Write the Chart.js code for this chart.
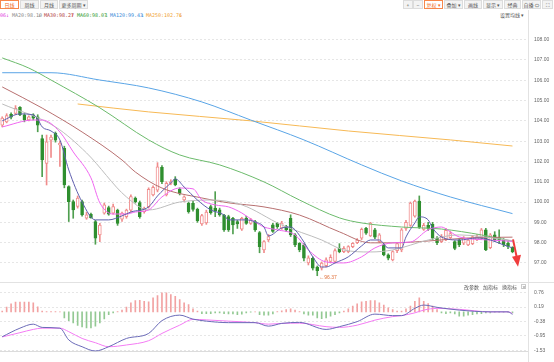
<!DOCTYPE html>
<html>
<head>
<meta charset="utf-8">
<script src="https://cdn.jsdelivr.net/npm/chart.js@4.4.1/dist/chart.umd.min.js"></script>
<style>
  body { margin: 0; background: #fff; font-family: "Noto Sans CJK SC", "Liberation Sans", sans-serif; }
  #wrap { position: relative; width: 554px; height: 362px; overflow: hidden; background: #fff; }
  .btn { position: absolute; top: 0; height: 9px; box-sizing: border-box; border: 1px solid #dcdcdc;
         background: #f3f3f3; color: #555; font-size: 5px; line-height: 7px; text-align: center; white-space: nowrap; }
  .btn.on { border-color: #f7874a; color: #f26a21; background: #fff; }
  .lg { position: absolute; top: 12px; font-size: 5px; line-height: 6px; white-space: nowrap; font-family: "DejaVu Sans Mono", monospace; }
  .tool { position: absolute; font-size: 5px; line-height: 6px; color: #555; white-space: nowrap; }
  .hline { position: absolute; left: 0; height: 1px; background: #e2e2e2; }
  .vline { position: absolute; width: 1px; background: #e2e2e2; }
  canvas { position: absolute; left: 0; }
</style>
</head>
<body>
<div id="wrap">
  <div class="btn on" style="left:0;width:19px">日线</div>
  <div class="btn" style="left:20px;width:19px">周线</div>
  <div class="btn" style="left:40px;width:18px">月线</div>
  <div class="btn" style="left:59px;width:29px">更多周期 ▾</div>

  <div class="btn" style="left:403px;width:10px">+</div>
  <div class="btn" style="left:413px;width:10px">−</div>
  <div class="btn on" style="left:424px;width:19px">复权 ▾</div>
  <div class="btn" style="left:444px;width:19px">叠加 ▾</div>
  <div class="btn" style="left:464px;width:18px">画线</div>
  <div class="btn" style="left:483px;width:20px">显示 ▾</div>
  <div class="btn" style="left:504px;width:17px">经典</div>
  <div class="btn" style="left:522px;width:19px">自播 ⇔</div>
  <div class="btn" style="left:542px;width:11px">⛶</div>

  <span class="lg" style="left:0;color:#e040e0">06</span>
  <span class="lg" style="left:6px;color:#e040e0">↓</span>
  <span class="lg" style="left:12px;color:#888">MA20:98.10</span>
  <span class="lg" style="left:38px;color:#888">↓</span>
  <span class="lg" style="left:44px;color:#b03a3a">MA30:98.27</span>
  <span class="lg" style="left:71px;color:#e03030">↑</span>
  <span class="lg" style="left:77px;color:#2f9a2f">MA60:98.07</span>
  <span class="lg" style="left:105px;color:#2f9a2f">↓</span>
  <span class="lg" style="left:110px;color:#3a8ad8">MA120:99.43</span>
  <span class="lg" style="left:141px;color:#3a8ad8">↓</span>
  <span class="lg" style="left:146px;color:#f0a030">MA250:102.76</span>
  <span class="lg" style="left:179px;color:#f0a030">↓</span>
  <span class="tool" style="left:500px;top:12px">设置均线 ▾</span>

  <canvas id="kline" width="554" height="260" style="top:22px"></canvas>
  <canvas id="macd" width="554" height="80" style="top:282px"></canvas>

  <div class="hline" style="top:282px;width:554px"></div>
  <div class="vline" style="left:528px;top:10px;height:352px"></div>
  <span class="tool" style="left:464px;top:284px">改参数</span>
  <span class="tool" style="left:483px;top:284px">加指标</span>
  <span class="tool" style="left:502px;top:284px">换指标</span>
  <span class="tool" style="left:521px;top:284px;border:1px solid #ccc;width:5px;height:5px;line-height:5px;text-align:center;box-sizing:border-box;font-size:4px">×</span>
</div>

<script>
// daily candles
const open = [103.79,103.95,104.32,104.37,104.66,104.29,104.04,104.29,104.2,103.13,
  101.9,103.05,103.38,102.81,102.65,100.76,100.02,99.78,100.02,99.2,
  99.4,99.04,98.38,99.45,99.73,99.45,99.6,99.15,99.28,99.6,
  100.19,99.97,99.53,99.77,100.35,100.59,101.71,100.35,100.92,101.12,
  100.63,100.1,99.94,99.94,99.64,98.92,98.97,99.77,99.7,99.61,
  99.36,99.28,99.2,99.04,98.66,99.2,98.95,99.04,98.5,97.64,
  98.13,98.88,98.96,98.71,98.79,99.2,98.38,97.97,97.89,97.0,
  97.23,96.79,96.74,96.86,97.07,97.07,97.72,97.56,97.56,97.8,
  98.0,98.22,98.71,98.33,98.63,98.05,97.89,97.4,97.15,97.6,
  97.64,98.7,98.85,99.3,100.05,98.65,98.85,98.9,98.22,98.05,
  98.15,98.25,98.05,98.13,97.97,97.89,97.95,98.13,98.22,98.63,
  97.75,98.38,98.25,98.13,97.97,97.77];
const high = [104.2,104.35,104.4,104.75,104.7,104.35,104.25,104.35,104.3,103.3,
  103.3,103.3,103.45,103.0,102.75,100.8,100.1,100.3,100.1,99.5,
  99.45,99.1,98.95,99.95,99.8,99.9,99.65,99.5,99.65,100.35,
  100.25,100.05,99.75,100.7,100.8,101.94,101.8,101.0,101.1,101.25,
  100.7,100.3,100.0,100.05,99.7,99.4,99.6,99.85,100.51,99.7,
  99.4,99.35,99.25,99.1,99.25,99.3,99.2,99.1,98.55,98.1,
  98.4,98.95,99.0,99.05,98.85,99.37,98.45,98.0,97.95,97.35,
  97.3,96.85,97.05,97.25,97.4,97.7,97.95,97.8,97.85,98.0,
  98.2,98.72,98.75,99.0,98.7,98.45,97.95,97.45,97.6,98.0,
  98.7,99.1,100.0,100.1,100.3,98.95,99.0,99.0,98.3,98.4,
  98.7,98.55,98.1,98.2,98.3,98.2,98.35,98.4,98.7,98.71,
  98.45,98.54,98.63,98.2,98.05,97.8];
const low = [103.7,103.9,104.1,104.3,104.25,103.95,104.0,104.05,103.46,101.25,
  100.84,102.2,102.95,101.75,100.7,99.04,99.2,99.7,99.3,99.15,
  99.2,97.92,98.05,99.4,99.35,99.4,98.85,99.05,99.2,99.5,
  99.95,99.2,99.45,99.7,100.3,100.5,100.9,100.3,100.85,100.8,
  100.35,100.0,99.45,99.55,99.0,98.85,98.9,99.4,99.28,99.3,
  98.55,98.55,98.43,98.7,98.6,98.9,98.9,98.55,97.5,97.5,
  98.05,98.5,98.7,98.65,98.55,98.3,97.8,97.55,97.1,96.9,
  96.65,96.37,96.65,96.8,97.0,97.0,97.5,97.5,97.5,97.75,
  97.95,98.15,98.4,98.3,98.2,98.0,97.35,97.15,97.1,97.5,
  97.55,98.6,98.8,99.25,98.7,98.6,98.6,98.15,97.9,98.0,
  98.1,98.2,97.65,97.8,97.9,97.85,97.9,98.1,98.15,97.6,
  97.7,98.05,97.95,97.8,97.7,97.5];
const close = [104.13,104.26,104.18,104.62,104.29,104.04,104.2,104.13,103.79,102.07,
  102.97,103.2,103.05,102.9,100.84,100.02,99.61,100.19,99.37,99.37,
  99.22,98.22,98.87,99.86,99.4,99.78,98.95,99.45,99.6,100.27,
  100.02,99.28,99.69,100.63,100.73,101.74,101.0,100.92,101.0,100.84,
  100.43,100.26,99.53,99.64,99.08,99.33,99.5,99.48,99.55,99.36,
  98.63,98.63,98.87,98.92,99.2,98.95,99.12,98.63,97.8,98.05,
  98.3,98.55,98.79,98.96,98.63,98.38,97.89,97.64,97.23,97.25,
  96.74,96.62,96.99,97.15,97.28,97.61,97.56,97.72,97.8,97.97,
  98.13,98.66,98.46,98.96,98.27,98.38,97.4,97.23,97.56,97.95,
  98.63,99.0,99.95,100.05,98.75,98.85,98.7,98.22,98.0,98.3,
  98.6,98.45,97.72,97.89,98.22,98.13,98.3,98.3,98.63,97.64,
  98.38,98.13,98.15,97.89,97.81,97.56];

// moving averages as [candle index, value]
const ma5 = [[0,104.0],[4,104.34],[7,104.29],[8,104.09],[9,103.7],[11,103.5],[13,103.06],[15,101.58],[18,100.0],
  [21,99.12],[24,99.12],[27,99.32],[29,99.51],[33,99.76],[35,100.3],[38,100.94],[39,101.14],[41,100.74],[44,100.1],
  [47,99.61],[50,99.36],[51,99.12],[55,99.12],[57,99.02],[59,98.77],[60,98.33],[63,98.72],[65,98.77],[66,98.63],
  [68,98.03],[70,97.3],[72,96.8],[73,96.8],[75,97.0],[78,97.3],[81,97.84],[83,98.13],[85,98.13],[87,97.74],
  [90,97.74],[91,98.28],[93,98.97],[94,99.27],[96,99.12],[97,98.72],[99,98.28],[103,98.13],[107,98.23],
  [110,98.13],[113,97.89],[115,97.74]];
const ma10 = [[0,103.7],[7,104.04],[9,104.04],[13,103.45],[16,102.47],[20,101.19],[22,99.96],[25,99.41],[28,99.41],
  [30,99.51],[33,99.61],[36,100.25],[40,100.69],[43,100.65],[45,100.1],[48,99.86],[51,99.76],[54,99.46],[57,99.02],
  [59,98.77],[62,98.63],[66,98.38],[69,97.64],[73,97.05],[77,97.0],[81,97.3],[84,97.74],[88,97.99],[92,98.03],
  [96,98.63],[99,98.77],[101,98.53],[103,98.28],[110,98.13],[115,98.06]];
const ma20 = [[0,104.83],[12,103.7],[19,102.42],[28,100.25],[33,99.61],[40,100.0],[47,100.1],[54,99.86],[63,98.87],
  [72,98.13],[77,97.64],[83,97.54],[88,97.64],[96,98.13],[103,98.38],[115,98.10]];
const ma30 = [[0,105.67],[9,104.63],[18,103.45],[27,102.07],[30,101.48],[36,100.69],[45,100.2],[51,99.96],[59,99.76],
  [67,99.36],[76,98.53],[83,97.99],[88,97.99],[96,98.08],[105,98.23],[115,98.27]];
const ma60 = [[0,107.1],[6,106.6],[11,106.01],[22,104.64],[33,103.06],[40,102.32],[49,101.83],[59,100.99],[67,100.1],
  [76,99.22],[81,98.97],[90,98.77],[99,98.67],[108,98.38],[115,98.07]];
const ma120 = [[0,106.37],[11,106.37],[22,106.01],[33,105.62],[45,104.93],[56,104.04],[68,103.06],[81,101.83],
  [90,101.04],[101,100.25],[115,99.43]];
const ma250 = [[17,104.83],[33,104.44],[56,104.0],[78,103.5],[101,103.06],[115,102.76]];

// MACD
const hist = [0.03,0.19,0.32,0.39,0.39,0.39,0.39,0.36,0.2,0.03,
  0.01,0.01,0.01,0.0,-0.24,-0.35,-0.44,-0.54,-0.6,-0.64,
  -0.64,-0.57,-0.44,-0.28,-0.11,-0.04,0.01,0.07,0.19,0.36,
  0.45,0.46,0.42,0.4,0.56,0.65,0.76,0.76,0.69,0.62,
  0.49,0.36,0.29,0.12,0.03,-0.07,-0.07,-0.07,-0.04,-0.04,
  -0.07,-0.08,-0.08,-0.11,-0.09,-0.04,-0.01,0.0,-0.11,-0.13,
  -0.13,-0.08,0.01,0.04,0.09,0.12,0.07,0.01,-0.08,-0.13,
  -0.13,-0.24,-0.27,-0.24,-0.17,-0.11,-0.04,0.03,0.12,0.23,
  0.32,0.4,0.42,0.45,0.45,0.36,0.27,0.16,0.09,0.03,
  0.03,0.12,0.23,0.42,0.56,0.42,0.33,0.23,0.09,-0.04,
  -0.07,-0.04,-0.08,-0.17,-0.17,-0.13,-0.11,-0.08,-0.07,-0.04,
  -0.04,-0.01,-0.01,-0.01,-0.01,-0.04];
const dif = [[0,-0.99],[4,-0.65],[7,-0.49],[9,-0.62],[13,-0.65],[15,-1.12],[18,-1.39],[21,-1.56],[24,-1.39],
  [28,-1.06],[33,-0.86],[36,-0.35],[40,-0.13],[43,-0.29],[46,-0.37],[51,-0.43],[57,-0.43],[60,-0.57],[63,-0.46],
  [67,-0.42],[73,-0.7],[76,-0.59],[80,-0.39],[84,-0.09],[88,-0.15],[90,-0.15],[93,0.14],[95,0.27],[98,0.18],
  [103,0.07],[110,0.0],[114,0.0],[115,-0.1]];
const dea = [[0,-1.0],[4,-0.83],[7,-0.7],[9,-0.65],[13,-0.65],[15,-0.79],[18,-1.06],[21,-1.23],[24,-1.39],
  [28,-1.32],[33,-1.15],[36,-0.86],[40,-0.53],[43,-0.3],[46,-0.32],[51,-0.37],[57,-0.43],[60,-0.49],[63,-0.46],
  [67,-0.45],[73,-0.59],[76,-0.62],[80,-0.53],[84,-0.33],[88,-0.19],[90,-0.15],[93,-0.04],[95,0.07],[98,0.14],
  [103,0.1],[110,0.0],[114,0.0],[115,-0.06]];

const monthIdx = [8, 29, 51, 72, 95, 116];
const monthLabels = ['04', '05', '06', '07', '08', '09'];
const priceTicks = [97, 98, 99, 100, 101, 102, 103, 104, 105, 106, 107, 108];
const macdTicks = [0.76, 0.19, -0.38, -0.95, -1.53];

const UP = '#f08c8c';
const DOWN = '#2f8f2f';
const tickFont = { family: 'Liberation Sans', size: 5 };

function pts(list) {
  return list.map(p => ({ x: p[0], y: p[1] }));
}

function maLine(list, color) {
  return {
    type: 'line',
    data: pts(list),
    borderColor: color,
    borderWidth: 1,
    pointRadius: 0,
    pointHoverRadius: 0,
    cubicInterpolationMode: 'monotone',
    order: 1
  };
}

// low label and the red trend arrow
const marks = {
  id: 'marks',
  afterDatasetsDraw(chart) {
    const ctx = chart.ctx;
    const xs = chart.scales.x, ys = chart.scales.y;
    let lo = 0;
    low.forEach((v, i) => { if (v < low[lo]) lo = i; });
    const lx = xs.getPixelForValue(lo), ly = ys.getPixelForValue(low[lo]);
    ctx.save();
    ctx.fillStyle = '#e0703a';
    ctx.font = '5px "Liberation Sans"';
    ctx.textBaseline = 'middle';
    ctx.fillText('←' + low[lo].toFixed(2), lx + 2, ly + 2);

    const last = close.length - 1;
    const ax = xs.getPixelForValue(last + 0.8);
    const y0 = ys.getPixelForValue(close[last] + 0.6);
    const y1 = ys.getPixelForValue(close[last] - 0.75);
    ctx.strokeStyle = '#f03c3c';
    ctx.fillStyle = '#f03c3c';
    ctx.lineWidth = 2;
    ctx.beginPath();
    ctx.moveTo(ax - 3, y0);
    ctx.lineTo(ax + 1, y1 - 8);
    ctx.stroke();
    ctx.beginPath();
    ctx.moveTo(ax - 4, y1 - 10);
    ctx.lineTo(ax + 5, y1 - 12);
    ctx.lineTo(ax + 2, y1);
    ctx.closePath();
    ctx.fill();
    ctx.restore();
  }
};

function setup() {
  const up = i => close[i] >= open[i];

  new Chart(document.getElementById('kline'), {
    type: 'bar',
    data: {
      datasets: [
        maLine(ma5, '#5f5fae'),
        maLine(ma10, '#f066f0'),
        maLine(ma20, '#bdbdbd'),
        maLine(ma30, '#b87070'),
        maLine(ma60, '#6cbb6c'),
        maLine(ma120, '#5aa5e6'),
        maLine(ma250, '#f7b955'),
        {
          data: close.map((c, i) => ({ x: i, y: [open[i], c] })),
          backgroundColor: close.map((c, i) => up(i) ? '#ffffff' : DOWN),
          borderColor: close.map((c, i) => up(i) ? UP : DOWN),
          borderWidth: 1,
          borderSkipped: false,
          barThickness: 3,
          minBarLength: 1,
          grouped: false,
          order: 2
        },
        {
          data: close.map((c, i) => ({ x: i, y: [low[i], high[i]] })),
          backgroundColor: close.map((c, i) => up(i) ? UP : '#4f9f4f'),
          barThickness: 1,
          grouped: false,
          order: 3
        }
      ]
    },
    options: {
      responsive: false,
      animation: false,
      layout: { autoPadding: false, padding: { top: 2, bottom: 1, left: 0, right: 0 } },
      plugins: { legend: { display: false }, tooltip: { enabled: false } },
      scales: {
        x: { type: 'linear', min: -0.5, max: 118.5, offset: false, display: false },
        y: {
          position: 'right',
          min: 96.11,
          max: 108.77,
          afterBuildTicks: s => { s.ticks = priceTicks.map(v => ({ value: v })); },
          afterFit: s => { s.width = 26; s.paddingTop = 0; s.paddingBottom = 0; },
          ticks: { font: tickFont, color: '#666', padding: 6, callback: v => Number(v).toFixed(2) },
          grid: { color: '#e6e6e6', drawTicks: false },
          border: { display: false, dash: [2, 2] }
        }
      }
    },
    plugins: [marks]
  });

  new Chart(document.getElementById('macd'), {
    type: 'bar',
    data: {
      datasets: [
        {
          type: 'line', data: pts(dif), borderColor: '#6b6bb8', borderWidth: 1, pointRadius: 0,
          pointHoverRadius: 0, cubicInterpolationMode: 'monotone', order: 1
        },
        {
          type: 'line', data: pts(dea), borderColor: '#f47cf4', borderWidth: 1, pointRadius: 0,
          pointHoverRadius: 0, cubicInterpolationMode: 'monotone', order: 1
        },
        {
          data: hist.map((v, i) => ({ x: i, y: v })),
          backgroundColor: hist.map(v => v >= 0 ? '#f2a2a2' : '#93c993'),
          barThickness: 1,
          grouped: false,
          order: 2
        }
      ]
    },
    options: {
      responsive: false,
      animation: false,
      layout: { autoPadding: false, padding: { top: 3, bottom: 0, left: 0, right: 0 } },
      plugins: { legend: { display: false }, tooltip: { enabled: false } },
      scales: {
        x: {
          type: 'linear', min: -0.5, max: 118.5, offset: false,
          afterBuildTicks: s => { s.ticks = monthIdx.map(v => ({ value: v })); },
          afterFit: s => { s.height = 10.5; s.paddingLeft = 0; s.paddingRight = 0; },
          ticks: {
            font: tickFont, color: '#666', padding: 2, maxRotation: 0, autoSkip: false,
            callback: v => monthLabels[monthIdx.indexOf(v)]
          },
          grid: { display: false },
          border: { display: true, color: '#dcdcdc' }
        },
        y: {
          position: 'right',
          min: -1.58,
          max: 1.07,
          afterBuildTicks: s => { s.ticks = macdTicks.map(v => ({ value: v })); },
          afterFit: s => { s.width = 26; s.paddingTop = 0; s.paddingBottom = 0; },
          ticks: { font: tickFont, color: '#666', padding: 6, callback: v => Number(v).toFixed(2) },
          grid: { color: '#e6e6e6', drawTicks: false },
          border: { display: false, dash: [2, 2] }
        }
      }
    }
  });
}

window.addEventListener('load', setup);
</script>
</body>
</html>
